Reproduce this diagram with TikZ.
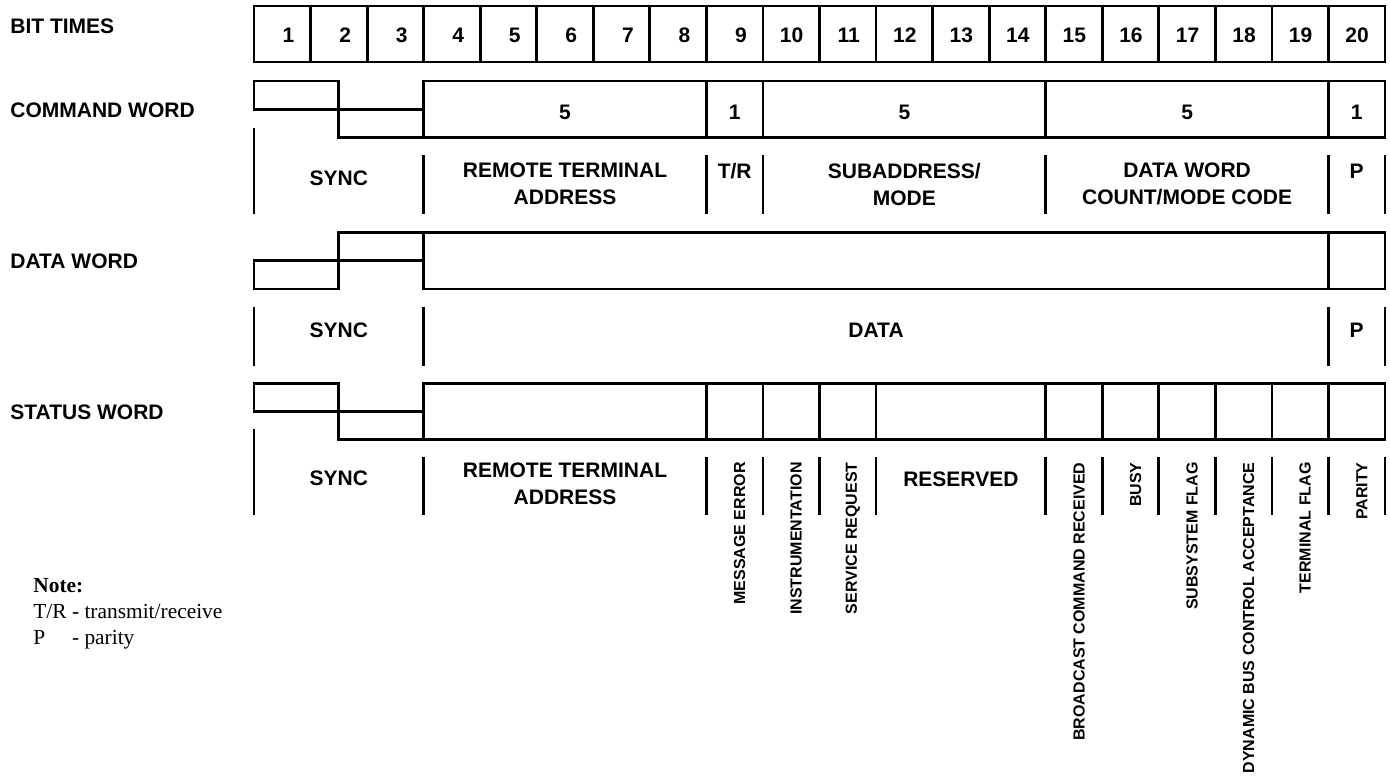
\documentclass[tikz,border=0pt]{standalone}
\usepackage{fontspec}
\setmainfont{Liberation Serif}
\setsansfont{Liberation Sans}

% x position of the boundary after bit #1
\newcommand{\bitx}[1]{(254+(#1)*56.55)}

\begin{document}
\begin{tikzpicture}[x=0.5pt, y=-0.5pt,
    wave/.style={line width=1.4pt},
    bitno/.style={font=\sffamily\bfseries\fontsize{10.5}{12}\selectfont, anchor=east, inner sep=0pt},
    rowname/.style={font=\sffamily\bfseries\fontsize{10.5}{12}\selectfont, anchor=west, inner sep=0pt},
    fieldtext/.style={font=\sffamily\bfseries\fontsize{10.5}{13.5}\selectfont, align=center, inner sep=0pt},
    flagtext/.style={font=\sffamily\bfseries\fontsize{8}{9.6}\selectfont, rotate=90, anchor=east, inner sep=0pt},
    note/.style={font=\fontsize{10.7}{13}\selectfont, anchor=base west, inner sep=0pt}]

    \useasboundingbox (0,0) rectangle (1390,778);

    % row names
    \node [rowname] (bittimes) at (10,26) {BIT TIMES};
    \node [rowname] (cmdword) at (10,110) {COMMAND WORD};
    \node [rowname] (dataword) at (10,261) {DATA WORD};
    \node [rowname] (statword) at (10,412) {STATUS WORD};

    % bit times
    \draw [wave] ({\bitx{0}},6) rectangle ({\bitx{20}},62);
    \foreach \i in {1,...,19}
        \draw [wave] ({\bitx{\i}},6) -- ({\bitx{\i}},62);
    \foreach \i in {1,...,20}
        \node [bitno] (bit\i) at ({\bitx{\i-0.5}+12.5},35) {\i};

    % command word
    \draw [wave] ({\bitx{0}},81) rectangle ({\bitx{1.5}},109.3);
    \draw [wave] ({\bitx{1.5}},109.3) rectangle ({\bitx{3}},137.7);
    \draw [wave] ({\bitx{3}},81) rectangle ({\bitx{20}},137.7);
    \foreach \i in {8,9,14,19}
        \draw [wave] ({\bitx{\i}},81) -- ({\bitx{\i}},137.7);
    \node [fieldtext] (cmdn1) at ({\bitx{5.5}},112) {5};
    \node [fieldtext] (cmdn2) at ({\bitx{8.5}},112) {1};
    \node [fieldtext] (cmdn3) at ({\bitx{11.5}},112) {5};
    \node [fieldtext] (cmdn4) at ({\bitx{16.5}},112) {5};
    \node [fieldtext] (cmdn5) at ({\bitx{19.5}},112) {1};

    \draw [wave] ({\bitx{0}},127.7) -- ({\bitx{0}},214);
    \foreach \i in {3,8,9,14,19,20}
        \draw [wave] ({\bitx{\i}},155) -- ({\bitx{\i}},214);
    \node [fieldtext] (cmdsync) at ({\bitx{1.5}},178) {SYNC};
    \node [fieldtext] (cmdrt) at ({\bitx{5.5}},184) {REMOTE TERMINAL\\ADDRESS};
    \node [fieldtext] (cmdtr) at ({\bitx{8.5}},171) {T/R};
    \node [fieldtext] (cmdsub) at ({\bitx{11.5}},184) {SUBADDRESS/\\MODE};
    \node [fieldtext] (cmdcnt) at ({\bitx{16.5}},184) {DATA WORD\\COUNT/MODE CODE};
    \node [fieldtext] (cmdp) at ({\bitx{19.5}},171) {P};

    % data word
    \draw [wave] ({\bitx{0}},260.7) rectangle ({\bitx{1.5}},289);
    \draw [wave] ({\bitx{1.5}},232.7) rectangle ({\bitx{3}},260.7);
    \draw [wave] ({\bitx{3}},232.7) rectangle ({\bitx{20}},289);
    \draw [wave] ({\bitx{19}},232.7) -- ({\bitx{19}},289);

    \foreach \i in {0,3,19,20}
        \draw [wave] ({\bitx{\i}},306.7) -- ({\bitx{\i}},366);
    \node [fieldtext] (datasync) at ({\bitx{1.5}},330) {SYNC};
    \node [fieldtext] (databits) at ({\bitx{11}},330) {DATA};
    \node [fieldtext] (datap) at ({\bitx{19.5}},330) {P};

    % status word
    \draw [wave] ({\bitx{0}},383.3) rectangle ({\bitx{1.5}},411.7);
    \draw [wave] ({\bitx{1.5}},411.7) rectangle ({\bitx{3}},439.3);
    \draw [wave] ({\bitx{3}},383.3) rectangle ({\bitx{20}},439.3);
    \foreach \i in {8,9,10,11,14,15,16,17,18,19}
        \draw [wave] ({\bitx{\i}},383.3) -- ({\bitx{\i}},439.3);

    \draw [wave] ({\bitx{0}},429.3) -- ({\bitx{0}},515);
    \foreach \i in {3,8,9,10,11,14,15,16,17,18,19,20}
        \draw [wave] ({\bitx{\i}},457.3) -- ({\bitx{\i}},515);
    \node [fieldtext] (statsync) at ({\bitx{1.5}},478) {SYNC};
    \node [fieldtext] (statrt) at ({\bitx{5.5}},484) {REMOTE TERMINAL\\ADDRESS};
    \node [fieldtext] (statres) at ({\bitx{12.5}},479) {RESERVED};
    \foreach \i/\txt in {9/MESSAGE ERROR, 10/INSTRUMENTATION, 11/SERVICE REQUEST,
            15/BROADCAST COMMAND RECEIVED, 16/BUSY, 17/SUBSYSTEM FLAG,
            18/DYNAMIC BUS CONTROL ACCEPTANCE, 19/TERMINAL FLAG, 20/PARITY}
        \node [flagtext] (flag\i) at ({\bitx{\i-0.5}+5},462) {\txt};

    % note
    \node [note] (notes) at (33,592) {\begin{tabular}[t]{@{}l@{\ }l@{}}
        \multicolumn{2}{@{}l@{}}{\textbf{Note:}}\\
        T/R & - transmit/receive\\
        P & - parity
    \end{tabular}};
\end{tikzpicture}
\end{document}
